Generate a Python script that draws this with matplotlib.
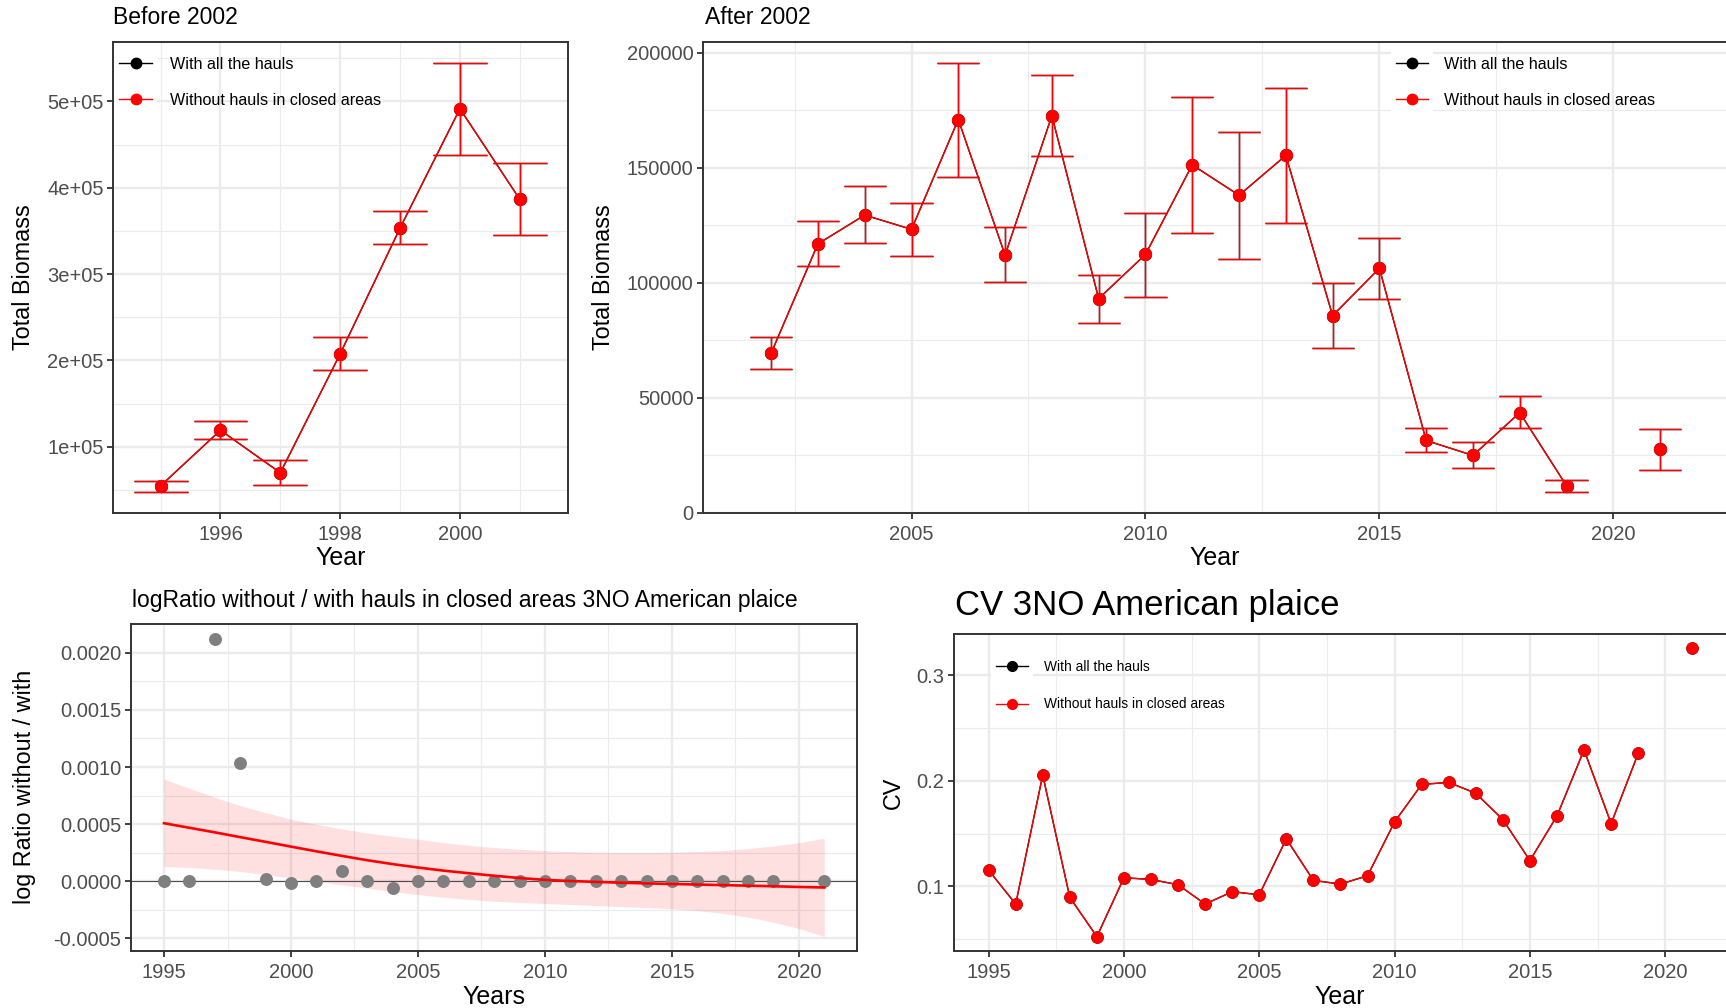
import numpy as np
import matplotlib.pyplot as plt
from matplotlib.lines import Line2D
from matplotlib.patches import Rectangle

plt.rcParams['font.family'] = ['Liberation Sans', 'DejaVu Sans']

W, H = 1726, 1008

# ---- Before 2002 (total biomass with error bars)
years_before = np.array([1995, 1996, 1997, 1998, 1999, 2000, 2001])
biomass_before = np.array([54600, 119000, 69700, 207600, 353400, 491600, 386600])
low_before = np.array([47900, 109200, 55900, 188700, 334900, 437800, 345000])
high_before = np.array([59700, 129400, 84500, 226500, 372700, 545000, 428200])

# ---- After 2002 (2020 missing)
years_after = np.arange(2002, 2022)
biomass_after = np.array([69400, 116900, 129400, 123200, 170900, 112000, 172600, 93100,
                          112300, 151200, 138000, 155300, 85700, 106300, 31500, 25000,
                          43600, 11800, np.nan, 27600])
low_after = np.array([62500, 107100, 117200, 111800, 146000, 100200, 155100, 82700,
                      94000, 121400, 110400, 126000, 71800, 93100, 26300, 19400,
                      36900, 9300, np.nan, 18600])
high_after = np.array([76500, 126800, 141900, 134600, 195600, 124100, 190400, 103300,
                       130400, 180800, 165500, 184600, 99800, 119500, 36900, 30700,
                       50600, 14500, np.nan, 36700])

# ---- log ratio without / with (2020 missing) and smooth fit
years_all = np.arange(1995, 2022)
log_ratio = np.array([0.0, 0.0, 0.002121, 0.001039, 0.000023, -0.000012, 0.0, 0.0000875,
                      0.0, -0.000061, 0.0, 0.0, 0.0, 0.0, 0.0, 0.0, 0.0, 0.0, 0.0, 0.0,
                      0.0, 0.0, 0.0, 0.0, 0.0, np.nan, 0.0])
smooth_fit = np.array([0.000508, 0.000468, 0.000428, 0.000386, 0.000345, 0.000303, 0.000262,
                       0.000222, 0.000184, 0.000150, 0.000120, 0.000093, 0.000070, 0.000048,
                       0.000028, 0.000012, 0.000002, -0.000006, -0.000013, -0.000019,
                       -0.000024, -0.000029, -0.000034, -0.000039, -0.000044, -0.000050,
                       -0.000055])
smooth_low = np.array([0.000128, 0.000120, 0.000105, 0.000085, 0.000058, 0.000029, 0.0,
                       -0.000032, -0.000061, -0.000090, -0.000117, -0.000140, -0.000160,
                       -0.000175, -0.000187, -0.000195, -0.000204, -0.000213, -0.000222,
                       -0.000230, -0.000242, -0.000257, -0.000280, -0.000315, -0.000359,
                       -0.000414, -0.000484])
smooth_high = np.array([0.000893, 0.000814, 0.000735, 0.000662, 0.000601, 0.000543, 0.000499,
                        0.000458, 0.000423, 0.000394, 0.000368, 0.000338, 0.000315, 0.000295,
                        0.000280, 0.000268, 0.000260, 0.000254, 0.000251, 0.000251, 0.000254,
                        0.000260, 0.000268, 0.000286, 0.000309, 0.000338, 0.000376])

# ---- CV (2020 missing)
cv_values = np.array([0.1154, 0.0833, 0.2053, 0.0896, 0.0525, 0.1082, 0.1066, 0.1016, 0.0833,
                      0.0950, 0.0921, 0.1450, 0.1057, 0.1022, 0.1101, 0.1610, 0.1965, 0.1984,
                      0.1881, 0.1632, 0.1245, 0.1667, 0.2292, 0.1594, 0.2258, np.nan, 0.3252])

LABELS = ["With all the hauls", "Without hauls in closed areas"]
GRID = "#EBEBEB"
TICK_TXT = "#4D4D4D"
SPINE = "#333333"


def fx(x):
    return x / W


def fy(y):
    return 1 - y / H


fig = plt.figure(figsize=(W / 100, H / 100), dpi=100)


def make_axes(left, top, right, bottom):
    return fig.add_axes([fx(left), fy(bottom), (right - left) / W, (bottom - top) / H])


def style(ax, xmaj, xmin, ymaj, ymin, ylabels, fs=14.5):
    ax.set_axisbelow(True)
    ax.set_xticks(xmaj)
    ax.set_xticks(xmin, minor=True)
    ax.set_yticks(ymaj)
    ax.set_yticks(ymin, minor=True)
    ax.set_yticklabels(ylabels)
    ax.set_xticklabels([str(v) for v in xmaj])
    ax.grid(True, which='major', color=GRID, lw=1.7)
    ax.grid(True, which='minor', color=GRID, lw=0.8)
    ax.tick_params(which='major', length=4.5, width=1.3, color=SPINE,
                   labelsize=fs, labelcolor=TICK_TXT, pad=2.5)
    ax.tick_params(axis='x', which='major', pad=4)
    ax.tick_params(which='minor', length=0)
    for s in ax.spines.values():
        s.set_color(SPINE)
        s.set_linewidth(1.4)


def add_legend(ax, key_left, key_right, text_left, row1, row2, fs, ms):
    fs_px = fs * 100 / 72
    ax.add_patch(Rectangle((fx(key_left - 5), fy(row2 + 17)), (key_right - key_left + 10) / W,
                           (row2 - row1 + 34) / H, transform=fig.transFigure,
                           facecolor='white', edgecolor='none', zorder=0.9))
    handles = [Line2D([], [], color='black', marker='o', lw=1, ms=ms),
               Line2D([], [], color='red', marker='o', lw=1, ms=ms)]
    text_h = fs_px * 1.15
    ax.legend(handles, LABELS, loc='upper left',
              bbox_to_anchor=(fx(key_left), fy(row1 - text_h / 2 + 3.5)),
              bbox_transform=fig.transFigure, frameon=False, fontsize=fs,
              handlelength=(key_right - key_left) / fs_px,
              handletextpad=(text_left - key_right) / fs_px,
              labelspacing=(row2 - row1 - text_h + 3.3) / fs_px,
              borderpad=0, borderaxespad=0)


def errbars(ax, x, y, lo, hi, half):
    ok = ~np.isnan(y)
    x, y, lo, hi = x[ok], y[ok], lo[ok], hi[ok]
    for col, z in (('black', 2), ('red', 3)):
        ax.vlines(x, lo, hi, color=col, lw=1.0, zorder=z)
        ax.hlines(lo, x - half, x + half, color=col, lw=1.0, zorder=z)
        ax.hlines(hi, x - half, x + half, color=col, lw=1.0, zorder=z)
        ax.plot(x, y, 'o', color=col, ms=8.5, zorder=z)


# ---------------- top left
ax1 = make_axes(113.3, 41.7, 567.7, 513)
ax1.plot(years_before, biomass_before, color='black', lw=1.0, zorder=2)
ax1.plot(years_before, biomass_before, color='red', lw=1.0, zorder=3)
errbars(ax1, years_before, biomass_before, low_before, high_before, 0.45)
ax1.set_xlim(1994.21, 2001.8)
ax1.set_ylim(23100, 569300)
style(ax1, [1996, 1998, 2000], [1995, 1997, 1999, 2001],
      [100000, 200000, 300000, 400000, 500000],
      [50000, 150000, 250000, 350000, 450000, 550000],
      ["1e+05", "2e+05", "3e+05", "4e+05", "5e+05"])
add_legend(ax1, 119, 152, 170.5, 62.7, 99, 11.6, 7.5)

# ---------------- top right
ax2 = make_axes(703.3, 41.7, 1727.5, 513)
ax2.plot(years_after, biomass_after, color='black', lw=1.0, zorder=2)
ax2.plot(years_after, biomass_after, color='red', lw=1.0, zorder=3)
errbars(ax2, years_after, biomass_after, low_after, high_after, 0.45)
ax2.set_xlim(2000.55, 2022.44)
ax2.set_ylim(0, 204700)
style(ax2, [2005, 2010, 2015, 2020], [2002.5, 2007.5, 2012.5, 2017.5],
      [0, 50000, 100000, 150000, 200000],
      [25000, 75000, 125000, 175000],
      ["0", "50000", "100000", "150000", "200000"])
add_legend(ax2, 1396, 1428, 1443.5, 62.7, 99, 11.6, 7.5)

# ---------------- bottom left
ax3 = make_axes(131, 623.5, 857.3, 951)
ax3.fill_between(years_all, smooth_low, smooth_high, color='red', alpha=0.12, lw=0, zorder=1.5)
ax3.axhline(0, color='#4D4D4D', lw=0.8, zorder=1.8)
ax3.plot(years_all, log_ratio, 'o', color='#7F7F7F', ms=8.3, zorder=2)
ax3.plot(years_all, smooth_fit, color='red', lw=1.9, zorder=3)
ax3.set_xlim(1993.7, 2022.3)
ax3.set_ylim(-0.000611, 0.002257)
style(ax3, [1995, 2000, 2005, 2010, 2015, 2020], [1997.5, 2002.5, 2007.5, 2012.5, 2017.5],
      [-0.0005, 0.0, 0.0005, 0.0010, 0.0015, 0.0020],
      [-0.00025, 0.00025, 0.00075, 0.00125, 0.00175, 0.00225],
      ["-0.0005", "0.0000", "0.0005", "0.0010", "0.0015", "0.0020"])

# ---------------- bottom right
ax4 = make_axes(953.7, 634, 1727.5, 951)
ax4.plot(years_all, cv_values, color='black', lw=1.0, marker='o', ms=8, zorder=2)
ax4.plot(years_all, cv_values, color='red', lw=1.0, marker='o', ms=8, zorder=3)
ax4.set_xlim(1993.71, 2022.3)
ax4.set_ylim(0.0389, 0.3388)
style(ax4, [1995, 2000, 2005, 2010, 2015, 2020], [1997.5, 2002.5, 2007.5, 2012.5, 2017.5],
      [0.1, 0.2, 0.3], [0.05, 0.15, 0.25], ["0.1", "0.2", "0.3"])
add_legend(ax4, 995.5, 1028.3, 1043.6, 664.3, 700.3, 9.9, 7)

# ---------------- titles and axis titles
fig.text(fx(113.3), fy(24.5), "Before 2002", fontsize=16.5, va='baseline', ha='left')
fig.text(fx(705), fy(24.5), "After 2002", fontsize=16.5, va='baseline', ha='left')
fig.text(fx(131.7), fy(600.7), "logRatio without / with hauls in closed areas 3NO American plaice",
         fontsize=16.5, va='center', ha='left')
fig.text(fx(954.6), fy(605), "CV 3NO American plaice", fontsize=25, va='center', ha='left')

fig.text(fx(340.5), fy(558), "Year", fontsize=18, ha='center', va='center')
fig.text(fx(1215), fy(558), "Year", fontsize=18, ha='center', va='center')
fig.text(fx(494), fy(997), "Years", fontsize=18, ha='center', va='center')
fig.text(fx(1340), fy(997), "Year", fontsize=18, ha='center', va='center')

fig.text(fx(24), fy(277), "Total Biomass", fontsize=16.8, rotation=90, ha='center', va='center')
fig.text(fx(603), fy(277), "Total Biomass", fontsize=16.8, rotation=90, ha='center', va='center')
fig.text(fx(24), fy(787), "log Ratio without / with", fontsize=16.8, rotation=90,
         ha='center', va='center')
fig.text(fx(893), fy(792.5), "CV", fontsize=16.8, rotation=90, ha='center', va='center')

fig.savefig("out.png", dpi=100)
